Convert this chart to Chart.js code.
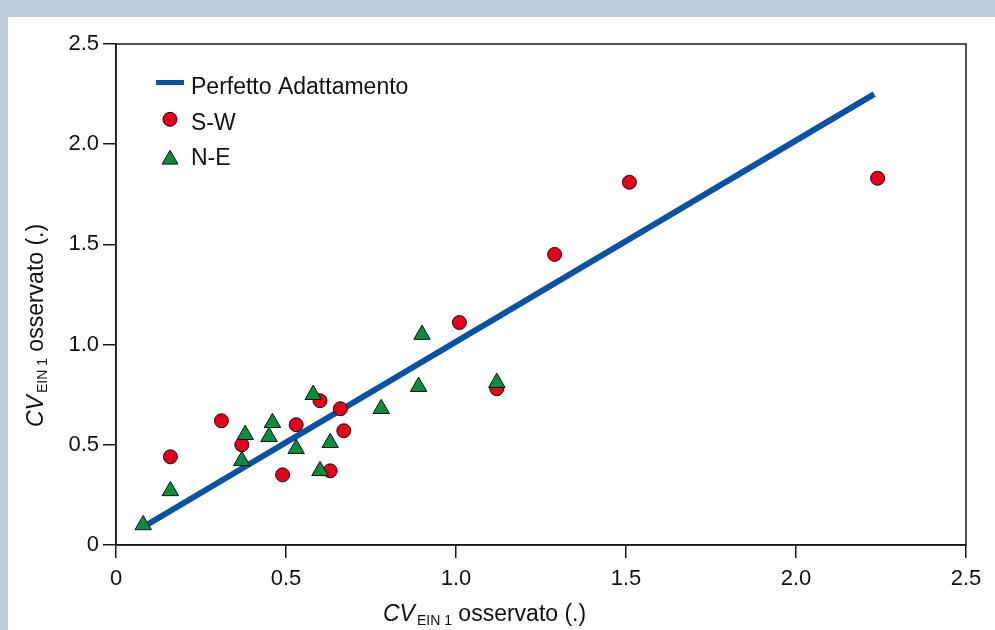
<!DOCTYPE html>
<html>
<head>
<meta charset="utf-8">
<title>CV EIN 1 osservato</title>
<script src="https://cdn.jsdelivr.net/npm/chart.js@4.4.1/dist/chart.umd.min.js"></script>
<style>
    html, body { margin: 0; padding: 0; }
    body { background: #bdccd9; width: 995px; height: 630px; overflow: hidden; position: relative; }
    #panel { position: absolute; left: 8px; top: 17px; width: 987px; height: 613px; background: #fff; }
    canvas { display: block; }
</style>
</head>
<body>
<div id="panel"><canvas id="cvChart" width="987" height="613"></canvas></div>
<script>
// Data
const fitX = [0.08, 2.23];
const fitY = [0.09, 2.25];

const swX = [0.16, 0.31, 0.37, 0.49, 0.53, 0.60, 0.66, 0.67, 0.63, 1.01, 1.12, 1.29, 1.51, 2.24];
const swY = [0.44, 0.62, 0.50, 0.35, 0.60, 0.72, 0.68, 0.57, 0.37, 1.11, 0.78, 1.45, 1.81, 1.83];

const neX = [0.08, 0.16, 0.37, 0.38, 0.45, 0.46, 0.53, 0.58, 0.63, 0.60, 0.78, 0.89, 0.90, 1.12];
const neY = [0.10, 0.27, 0.42, 0.55, 0.54, 0.61, 0.48, 0.75, 0.51, 0.37, 0.68, 0.79, 1.05, 0.81];

const seriesLabels = ['Perfetto Adattamento', 'S-W', 'N-E'];
const axisTicks = [0, 0.5, 1.0, 1.5, 2.0, 2.5];

// Axis title pieces: italic symbol, subscript, rest
const titleSymbol = 'CV';
const titleSub = 'EIN 1';
const titleRest = ' osservato (.)';

const FONT = "'Liberation Sans', Arial, Helvetica, sans-serif";
const AXIS_COLOR = '#1a1a1a';
const BLUE = '#0b52a1';
const RED = '#e2001a';
const GREEN = '#0a8d3c';

function toPoints(xs, ys) {
    return xs.map((x, i) => ({ x: x, y: ys[i] }));
}

function tickText(value) {
    return value === 0 ? '0' : value.toFixed(1);
}

// Box around the plot area (top and right sides too)
const frameBox = {
    id: 'frameBox',
    beforeDatasetsDraw(chart) {
        const { ctx, chartArea: a } = chart;
        ctx.save();
        ctx.strokeStyle = AXIS_COLOR;
        ctx.lineWidth = 1.5;
        ctx.strokeRect(a.left, a.top, a.right - a.left, a.bottom - a.top);
        ctx.restore();
    }
};

// Draws "CV" + subscript + rest starting at (0,0) of the current transform
function drawAxisTitle(ctx) {
    ctx.textAlign = 'left';
    ctx.textBaseline = 'alphabetic';
    ctx.fillStyle = '#111';
    let x = 0;
    ctx.font = 'italic 23px ' + FONT;
    ctx.fillText(titleSymbol, x, 0);
    x += ctx.measureText(titleSymbol).width + 2;
    ctx.font = '14px ' + FONT;
    ctx.fillText(titleSub, x, 4);
    x += ctx.measureText(titleSub).width;
    ctx.font = '23px ' + FONT;
    ctx.fillText(titleRest, x, 0);
}

const axisTitles = {
    id: 'axisTitles',
    afterDraw(chart) {
        const { ctx, chartArea: a } = chart;
        // x title
        ctx.save();
        ctx.translate(a.left + 267, a.bottom + 76);
        drawAxisTitle(ctx);
        ctx.restore();
        // y title, rotated
        ctx.save();
        ctx.translate(a.left - 73, a.bottom - 118);
        ctx.rotate(-Math.PI / 2);
        drawAxisTitle(ctx);
        ctx.restore();
    }
};

function drawCircle(ctx, x, y, r, fill) {
    ctx.beginPath();
    ctx.arc(x, y, r, 0, Math.PI * 2);
    ctx.fillStyle = fill;
    ctx.fill();
    ctx.lineWidth = 1;
    ctx.strokeStyle = '#111';
    ctx.stroke();
}

function drawTriangle(ctx, x, y, r, fill) {
    ctx.beginPath();
    let rad = 0;
    for (let i = 0; i < 3; i++) {
        const px = x + Math.sin(rad) * r;
        const py = y - Math.cos(rad) * r;
        if (i === 0) ctx.moveTo(px, py); else ctx.lineTo(px, py);
        rad += Math.PI * 2 / 3;
    }
    ctx.closePath();
    ctx.fillStyle = fill;
    ctx.fill();
    ctx.lineWidth = 1;
    ctx.strokeStyle = '#111';
    ctx.stroke();
}

// Legend inside the plot, top left
const insideLegend = {
    id: 'insideLegend',
    afterDraw(chart) {
        const { ctx, chartArea: a } = chart;
        const ds = chart.data.datasets;
        const textX = a.left + 75;
        const markX = a.left + 54;
        ctx.save();
        ctx.font = '23px ' + FONT;
        ctx.fillStyle = '#111';
        ctx.textAlign = 'left';
        ctx.textBaseline = 'alphabetic';

        ctx.strokeStyle = ds[0].borderColor;
        ctx.lineWidth = 5;
        ctx.beginPath();
        ctx.moveTo(a.left + 40, a.top + 38.5);
        ctx.lineTo(a.left + 68, a.top + 38.5);
        ctx.stroke();
        ctx.fillText(ds[0].label, textX, a.top + 50);

        drawCircle(ctx, markX, a.top + 75.3, 7, ds[1].backgroundColor);
        ctx.fillStyle = '#111';
        ctx.fillText(ds[1].label, textX, a.top + 85.5);

        drawTriangle(ctx, markX, a.top + 115.5, 9.2, ds[2].backgroundColor);
        ctx.fillStyle = '#111';
        ctx.fillText(ds[2].label, textX, a.top + 121);
        ctx.restore();
    }
};

function axisOptions(isX) {
    return {
        type: 'linear',
        min: 0,
        max: 2.5,
        afterBuildTicks: function(scale) {
            scale.ticks = axisTicks.map(v => ({ value: v }));
        },
        afterFit: function(scale) {
            if (isX) {
                scale.height = 85;
            } else {
                scale.width = 108;
            }
        },
        grid: {
            drawOnChartArea: false,
            drawTicks: true,
            tickLength: 13,
            color: AXIS_COLOR,
            lineWidth: 1.5
        },
        border: { display: true, color: AXIS_COLOR, width: 1.5 },
        ticks: {
            color: '#111',
            font: { size: 22, family: FONT },
            padding: isX ? 8 : 4,
            maxRotation: 0,
            callback: tickText
        }
    };
}

document.addEventListener('DOMContentLoaded', function() {
    const ctx = document.getElementById('cvChart').getContext('2d');
    new Chart(ctx, {
        type: 'scatter',
        data: {
            datasets: [
                {
                    label: seriesLabels[0],
                    data: toPoints(fitX, fitY),
                    showLine: true,
                    borderColor: BLUE,
                    backgroundColor: BLUE,
                    borderWidth: 6,
                    pointRadius: 0,
                    order: 3
                },
                {
                    label: seriesLabels[1],
                    data: toPoints(swX, swY),
                    pointStyle: 'circle',
                    pointRadius: 7,
                    backgroundColor: RED,
                    borderColor: '#111',
                    borderWidth: 1,
                    order: 2
                },
                {
                    label: seriesLabels[2],
                    data: toPoints(neX, neY),
                    pointStyle: 'triangle',
                    pointRadius: 9.5,
                    backgroundColor: GREEN,
                    borderColor: '#111',
                    borderWidth: 1,
                    order: 1
                }
            ]
        },
        options: {
            responsive: false,
            animation: false,
            devicePixelRatio: 1,
            layout: { padding: { top: 27, right: 29, left: 0, bottom: 0 } },
            scales: {
                x: axisOptions(true),
                y: axisOptions(false)
            },
            plugins: {
                legend: { display: false },
                tooltip: { enabled: false }
            }
        },
        plugins: [frameBox, axisTitles, insideLegend]
    });
});
</script>
</body>
</html>
